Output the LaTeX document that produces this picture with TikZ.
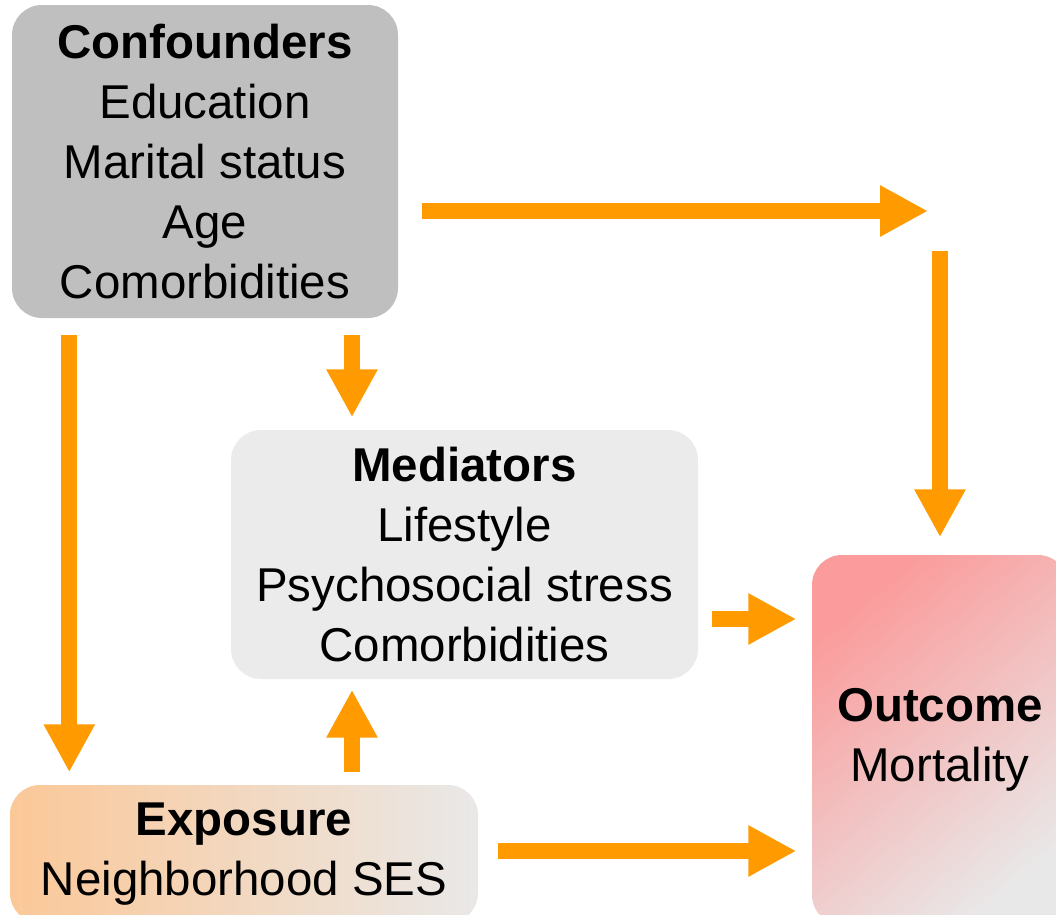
\documentclass[tikz,border=0pt]{standalone}
\usepackage{fontspec}
\setmainfont{Liberation Sans}
\usetikzlibrary{arrows.meta}

\definecolor{arrowc}{RGB}{255,155,0}
\definecolor{confc}{RGB}{191,191,191}
\definecolor{medc}{RGB}{235,235,235}
\definecolor{expoc}{RGB}{251,200,152}
\definecolor{outcc}{RGB}{251,155,155}
\definecolor{fadec}{RGB}{233,232,232}

\tikzset{
  box/.style={rounded corners=3mm, align=center, inner sep=0pt,
    font=\fontsize{13.5}{17.1}\selectfont},
  bigarrow/.style={draw=arrowc, line width=1.6mm,
    -{Triangle[width=4.8mm,length=4.8mm]}}
}

\begin{document}
\begin{tikzpicture}

\clip (0,0) rectangle (10.56,-9.15);

% boxes
\node[box, fill=confc, minimum width=3.86cm, minimum height=3.13cm] (conf) at (2.05,-1.615)
  {\textbf{Confounders}\\Education\\Marital status\\Age\\Comorbidities};
\node[box, fill=medc, minimum width=4.67cm, minimum height=2.49cm] (med) at (4.645,-5.545)
  {\textbf{Mediators}\\Lifestyle\\Psychosocial stress\\Comorbidities};
\node[box, left color=expoc, right color=fadec, minimum width=4.68cm, minimum height=1.38cm] (expo) at (2.44,-8.54)
  {\textbf{Exposure}\\Neighborhood SES};
\node[box, top color=outcc, bottom color=fadec, shading angle=40, minimum width=2.56cm, minimum height=3.70cm] (outc) at (9.40,-7.40)
  {\textbf{Outcome}\\Mortality};

% free ends
\coordinate (turn) at (9.28,-2.11);
\coordinate (drop) at (9.40,-2.51);

% arrows
\draw[bigarrow, shorten <=2.3mm] (conf.east |- turn) -- (turn);
\draw[bigarrow, shorten >=1.7mm] (drop) -- (outc.north);
\draw[bigarrow, shorten <=1.6mm, shorten >=1.2mm] ([xshift=5.8mm]conf.south west) -- ([xshift=5.8mm]conf.south west |- expo.north);
\draw[bigarrow, shorten <=1.6mm, shorten >=1.2mm] ([xshift=14.7mm]conf.south) -- ([xshift=14.7mm]conf.south |- med.north);
\draw[bigarrow, shorten <=1.2mm, shorten >=1mm] ([xshift=10.8mm]expo.north) -- ([xshift=10.8mm]expo.north |- med.south);
\draw[bigarrow, shorten <=1.3mm, shorten >=1.5mm] ([yshift=-6.45mm]med.east) -- ([yshift=-6.45mm]med.east -| outc.west);
\draw[bigarrow, shorten <=1.9mm, shorten >=1.5mm] ([yshift=0.3mm]expo.east) -- ([yshift=0.3mm]expo.east -| outc.west);

\end{tikzpicture}
\end{document}
